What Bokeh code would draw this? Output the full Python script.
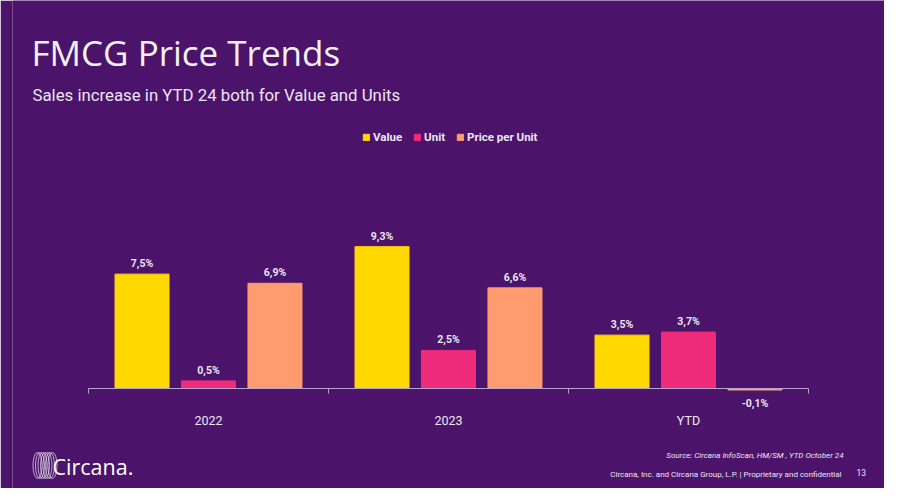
from bokeh.plotting import figure
from bokeh.models import FactorRange, Range1d, Label, Legend, LegendItem, ColumnDataSource
from bokeh.transform import dodge
from bokeh.core.properties import value
from bokeh.embed import file_html
from bokeh.resources import INLINE

# ---------------- data ----------------
categories = ["2022", "2023", "YTD"]
series_names = ["Value", "Unit", "Price per Unit"]
value_growth = [7.5, 9.3, 3.5]
unit_growth = [0.5, 2.5, 3.7]
price_growth = [6.9, 6.6, -0.1]
series_colors = ["#FFD800", "#EE2A7B", "#FF9B6E"]

title_text = "FMCG Price Trends"
subtitle_text = "Sales increase in YTD 24 both for Value and Units"
source_text = "Source: Circana InfoScan, HM/SM , YTD October 24"
legal_text = "Circana, Inc. and Circana Group, L.P. |  Proprietary and confidential"
page_text = "13"
logo_text = "Circana."

# ---------------- layout ----------------
W, H = 884, 488
BG = "#4B1369"
TXT = "#EDE6F3"
LEFT = 12           # frame left border (px)
PAD = 0.3167
BASE_Y = 388.0      # baseline, px from top of canvas
PX_PER_PCT = 15.25

p = figure(width=W, height=H,
           x_range=FactorRange(*categories, range_padding=PAD, range_padding_units="absolute"),
           y_range=Range1d(-(H - BASE_Y) / PX_PER_PCT, BASE_Y / PX_PER_PCT),
           output_backend="svg", toolbar_location=None,
           x_axis_location=None, y_axis_location=None,
           min_border=0, min_border_left=LEFT,
           background_fill_color=BG, border_fill_color=BG,
           outline_line_color=None)
p.xgrid.visible = False
p.ygrid.visible = False

offsets = [-0.277, 0.0, 0.277]
all_vals = [value_growth, unit_growth, price_growth]
renderers = []
for name, vals, col, off in zip(series_names, all_vals, series_colors, offsets):
    labels = [("%.1f" % v).replace(".", ",") + "%" for v in vals]
    src = ColumnDataSource(dict(
        cat=categories, val=vals, lab=labels,
        base=["bottom" if v >= 0 else "top" for v in vals],
        yoff=[-4 if v >= 0 else 7 for v in vals],
    ))
    r = p.vbar(x=dodge("cat", off, range=p.x_range), top="val", bottom=0, width=0.225,
               source=src, fill_color=col, line_color=col)
    renderers.append(r)
    p.text(x=dodge("cat", off, range=p.x_range), y="val", text="lab", source=src,
           text_align="center", text_baseline="base", y_offset="yoff",
           text_font=value("Roboto"), text_font_style="bold", text_font_size="10.5px",
           text_color=TXT)

# axis line and boundary ticks
axis_src = ColumnDataSource(dict(a=[categories[0]], b=[categories[-1]]))
p.segment(x0=dodge("a", -0.5, range=p.x_range), y0=0, x1=dodge("b", 0.5, range=p.x_range), y1=0,
          source=axis_src, line_color="#B9A6CE", line_width=1)
tick_cats = categories + [categories[-1]]
tick_offs = [-0.5, -0.5, -0.5, 0.5]
tick_len = 5 / PX_PER_PCT
for c, o in zip(tick_cats, tick_offs):
    s = ColumnDataSource(dict(c=[c]))
    p.segment(x0=dodge("c", o, range=p.x_range), y0=0,
              x1=dodge("c", o, range=p.x_range), y1=-tick_len,
              source=s, line_color="#B9A6CE", line_width=1)

# category labels
cat_src = ColumnDataSource(dict(cat=categories))
p.text(x="cat", y=0, text="cat", source=cat_src, text_align="center", text_baseline="middle",
       y_offset=32, text_font=value("Roboto"), text_font_size="12.5px", text_color=TXT)

# legend
legend = Legend(items=[LegendItem(label=n, renderers=[r]) for n, r in zip(series_names, renderers)],
                orientation="horizontal", location=(362 - LEFT, H - 144),
                glyph_width=8, glyph_height=8, label_height=12, label_standoff=3, spacing=11,
                padding=0, margin=0, background_fill_alpha=0, border_line_color=None,
                label_text_font="Roboto", label_text_font_style="bold",
                label_text_font_size="11.5px", label_text_color=TXT)
p.add_layout(legend, "center")

# titles and footer (screen units are relative to the frame)
def lab(text, x, y, size, font="Roboto", style="normal", align="left", color=TXT, baseline="middle"):
    p.add_layout(Label(x=x - LEFT, y=H - y, x_units="screen", y_units="screen", text=text,
                       text_font=font, text_font_size=size, text_font_style=style,
                       text_align=align, text_baseline=baseline, text_color=color))

lab(title_text, 31, 52, "35px", font="Open Sans", color="#F5F0F8")
lab(subtitle_text, 32, 94, "16.8px", font="Roboto", color="#EDE6F3")
lab(source_text, 843, 455, "8px", style="italic", align="right")
lab(legal_text, 843, 474, "8px", align="right")
lab(page_text, 856, 472, "8.5px", align="left")
lab(logo_text, 52, 466, "21.5px", font="Open Sans", color="#FFFFFF")

# logo coil (decorative), positions converted from px into synthetic coordinates
ppu = (W - LEFT) / (len(categories) + 2 * PAD)
coil_px = [37, 39.5, 42, 44.5, 47, 49.5, 52]
coil_x = [(px - LEFT) / ppu - PAD for px in coil_px]
coil_y = [(BASE_Y - 465) / PX_PER_PCT] * len(coil_px)
p.ellipse(x=coil_x, y=coil_y, width=9, height=26, width_units="screen", height_units="screen",
          fill_alpha=0, line_color="#FFFFFF", line_alpha=0.8, line_width=0.8)

open("out.html", "w").write(file_html(p, INLINE))
